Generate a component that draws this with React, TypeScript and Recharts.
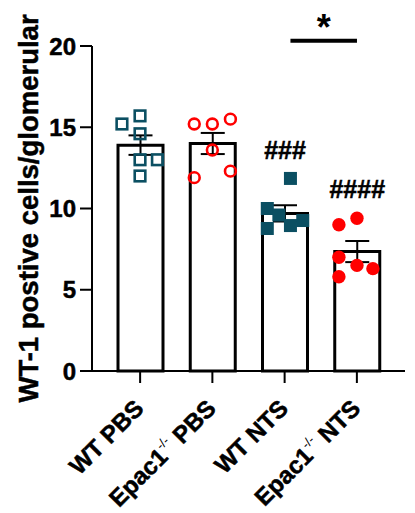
import React from "react";
import {
  ComposedChart,
  Bar,
  ErrorBar,
  LabelList,
  Scatter,
  XAxis,
  YAxis,
  ReferenceLine,
} from "recharts";

const FONT = '"Liberation Sans", Arial, Helvetica, sans-serif';
const TEAL = "#0b4f62";
const RED = "#ff0000";

// groups (genotype + treatment)
const genotypes = ["WT", "Epac1", "WT", "Epac1"];
const genoSup = ["", "-/-", "", "-/-"];
const treatments = ["PBS", "PBS", "NTS", "NTS"];
const groupKeys = ["wt-pbs", "ko-pbs", "wt-nts", "ko-nts"];

// bar heights (mean) and SEM
const means = [13.9, 14.0, 9.7, 7.35];
const sems = [0.6, 0.65, 0.5, 0.65];
const sigMarks = ["", "", "###", "####"];

// individual animals: x = group index (1..4) + jitter, y = value
const wtPbsX = [0.75, 1, 1, 1, 1.24, 1];
const wtPbsY = [15.2, 15.7, 14.6, 13.0, 13.0, 12.0];
const koPbsX = [1.75, 2, 2.25, 2, 1.75, 2.25];
const koPbsY = [15.2, 15.2, 15.5, 13.6, 11.9, 12.3];
const wtNtsX = [2.76, 2.92, 3.08, 3.25, 2.76, 3.08];
const wtNtsY = [10.0, 9.6, 8.95, 9.26, 8.77, 11.85];
const koNtsX = [3.75, 4, 3.75, 4, 4.22, 3.75];
const koNtsY = [9.0, 9.4, 7.0, 6.5, 6.3, 5.8];

// WT NTS vs Epac1-/- NTS bracket
const starFrom = 3.08;
const starTo = 4.0;
const starY = 20.33;

const yTicks = [0, 5, 10, 15, 20];

const barData = groupKeys.map((key, i) => ({
  key,
  mean: means[i],
  sem: sems[i],
  sig: sigMarks[i],
}));

const pts = (xs: number[], ys: number[]) => xs.map((x, i) => ({ x, y: ys[i] }));

// a hair of stroke to get the heavy Prism look
const heavy = { stroke: "#000", strokeWidth: 0.5 };

const square = (filled: boolean) => (props: any) => {
  const { cx, cy } = props;
  if (filled) {
    return <rect x={cx - 6.5} y={cy - 6.5} width={13} height={13} fill={TEAL} />;
  }
  return (
    <rect x={cx - 5.3} y={cy - 5.3} width={10.6} height={10.6} fill="none" stroke={TEAL} strokeWidth={2.6} />
  );
};

const circle = (filled: boolean) => (props: any) => {
  const { cx, cy } = props;
  if (filled) return <circle cx={cx} cy={cy} r={6.7} fill={RED} />;
  return <circle cx={cx} cy={cy} r={5.4} fill="none" stroke={RED} strokeWidth={2.6} />;
};

const GroupTick = (props: any) => {
  const { x, y, payload } = props;
  const i = groupKeys.indexOf(payload.value);
  return (
    <text
      transform={`translate(${x + 5},${y + 25}) rotate(-45)`}
      textAnchor="end"
      fontSize={24}
      fontWeight="bold"
      fontFamily={FONT}
      fill="#000"
      {...heavy}
    >
      <tspan>{genotypes[i]}</tspan>
      {genoSup[i] ? (
        <>
          <tspan dy={-11} fontSize={13} fontWeight="normal" strokeWidth={0}>
            {genoSup[i]}
          </tspan>
          <tspan dy={11}>{" " + treatments[i]}</tspan>
        </>
      ) : (
        <tspan>{" " + treatments[i]}</tspan>
      )}
    </text>
  );
};

export default function App() {
  return (
    <div style={{ position: "absolute", left: 0, top: 0, background: "#fff" }}>
      <ComposedChart
        width={415}
        height={513}
        data={barData}
        margin={{ top: 46, right: 10, bottom: 0, left: 0 }}
        style={{ fontFamily: FONT }}
      >
        <XAxis
          xAxisId="cat"
          dataKey="key"
          type="category"
          height={142}
          padding={{ left: 12, right: 12 }}
          interval={0}
          tickSize={12}
          axisLine={{ stroke: "#000", strokeWidth: 2 }}
          tickLine={{ stroke: "#000", strokeWidth: 2 }}
          tick={<GroupTick />}
        />
        <XAxis
          xAxisId="num"
          dataKey="x"
          type="number"
          domain={[0.336, 4.664]}
          allowDataOverflow
          hide
        />
        <YAxis
          domain={[0, 20]}
          ticks={yTicks}
          width={92}
          tickSize={12}
          tickMargin={4}
          axisLine={{ stroke: "#000", strokeWidth: 2 }}
          tickLine={{ stroke: "#000", strokeWidth: 2 }}
          tick={{ fontSize: 24, fontWeight: "bold", fill: "#000", fontFamily: FONT, ...heavy }}
          label={{
            value: "WT-1 postive cells/glomerular",
            angle: -90,
            position: "insideLeft",
            offset: 28,
            style: {
              textAnchor: "middle",
              fontSize: 27.5,
              fontWeight: "bold",
              fill: "#000",
              fontFamily: FONT,
              ...heavy,
            },
          }}
        />
        <Bar
          xAxisId="cat"
          dataKey="mean"
          barSize={45}
          fill="#fff"
          stroke="#000"
          strokeWidth={3}
          isAnimationActive={false}
        >
          <ErrorBar dataKey="sem" width={12} stroke="#000" strokeWidth={2} direction="y" isAnimationActive={false} />
          <LabelList
            dataKey="sig"
            position="top"
            offset={54}
            style={{ fontSize: 25, fontWeight: "bold", fill: "#000", fontFamily: FONT, ...heavy }}
          />
        </Bar>
        <Scatter xAxisId="num" data={pts(wtPbsX, wtPbsY)} dataKey="y" shape={square(false)} isAnimationActive={false} />
        <Scatter xAxisId="num" data={pts(koPbsX, koPbsY)} dataKey="y" shape={circle(false)} isAnimationActive={false} />
        <Scatter xAxisId="num" data={pts(wtNtsX, wtNtsY)} dataKey="y" shape={square(true)} isAnimationActive={false} />
        <Scatter xAxisId="num" data={pts(koNtsX, koNtsY)} dataKey="y" shape={circle(true)} isAnimationActive={false} />
        <ReferenceLine
          xAxisId="num"
          segment={[
            { x: starFrom, y: starY },
            { x: starTo, y: starY },
          ]}
          stroke="#000"
          strokeWidth={4}
          ifOverflow="visible"
          label={{
            value: "*",
            position: "top",
            offset: 1,
            fontSize: 36,
            fontWeight: "bold",
            fill: "#000",
            fontFamily: FONT,
          }}
        />
      </ComposedChart>
    </div>
  );
}
